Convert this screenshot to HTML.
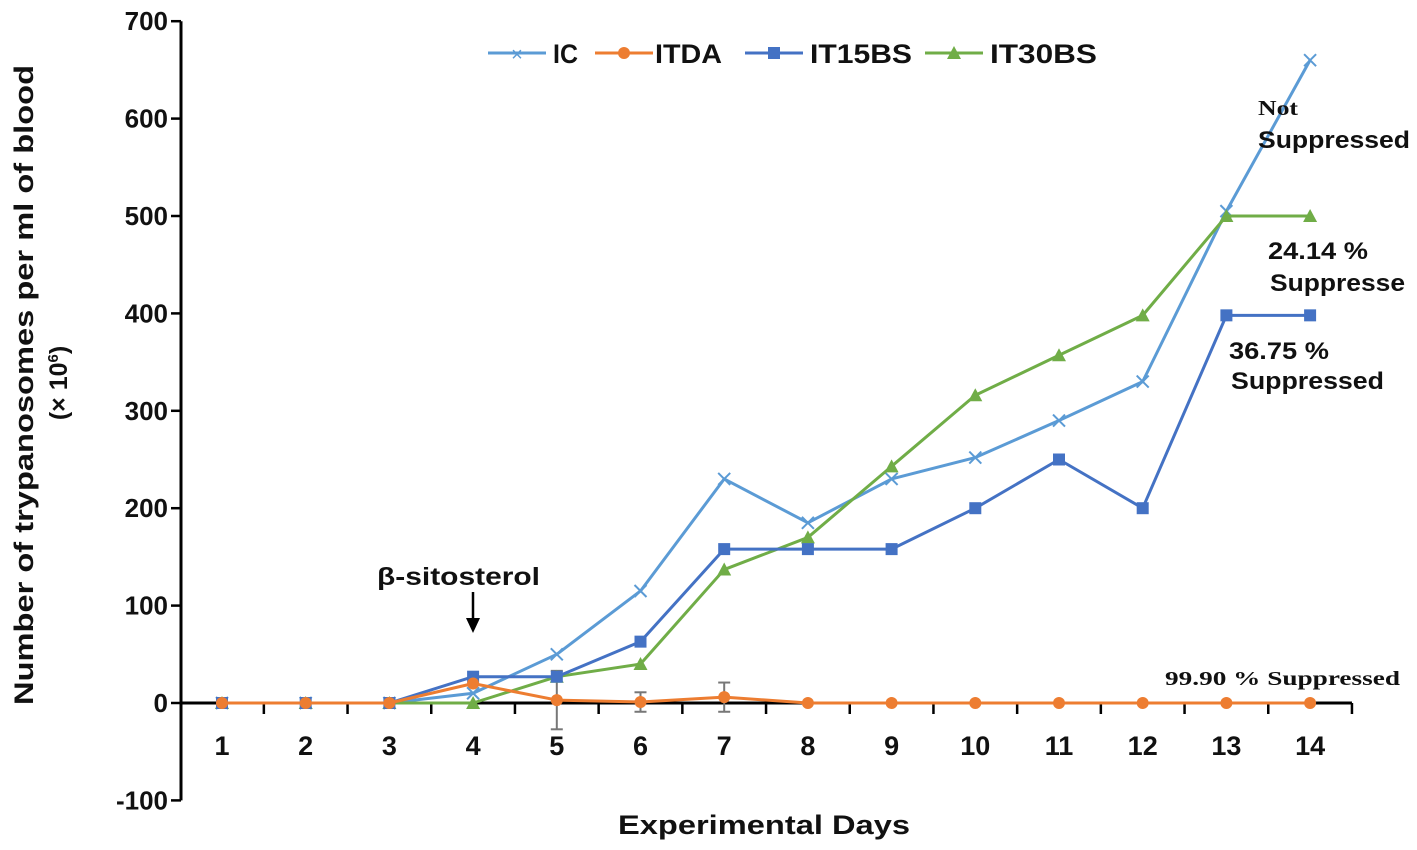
<!DOCTYPE html>
<html><head><meta charset="utf-8"><style>
body{margin:0;background:#fff;}
svg{display:block;font-family:"Liberation Sans",Arial,sans-serif;}
</style></head><body>
<svg id="chart" width="1417" height="850" viewBox="0 0 1417 850" xmlns="http://www.w3.org/2000/svg">
<g id="axes"></g>
<g id="series"></g>
<text transform="translate(33,385) rotate(-90)" text-anchor="middle" font-size="27" font-weight="bold" fill="#111" textLength="640" lengthAdjust="spacingAndGlyphs">Number of trypanosomes per ml of blood</text>
<text transform="translate(67,383) rotate(-90)" text-anchor="middle" font-size="25" font-weight="bold" fill="#111">(× 10<tspan font-size="15" dy="-9">6</tspan><tspan dy="9">)</tspan></text>
<text x="764" y="834" text-anchor="middle" font-size="27" font-weight="bold" fill="#111" textLength="292" lengthAdjust="spacingAndGlyphs">Experimental Days</text>
<g font-size="27" font-weight="bold" fill="#111">
 <g><line x1="488" y1="53" x2="546" y2="53" stroke="#5b9bd5" stroke-width="3"/><text x="517" y="61" text-anchor="middle" font-size="20" fill="#5b9bd5" font-weight="normal">×</text><text x="553" y="63" textLength="25" lengthAdjust="spacingAndGlyphs">IC</text></g>
 <g><line x1="595" y1="53" x2="653" y2="53" stroke="#ed7d31" stroke-width="3"/><circle cx="624" cy="53" r="6" fill="#ed7d31"/><text x="655" y="63" textLength="67" lengthAdjust="spacingAndGlyphs">ITDA</text></g>
 <g><line x1="745" y1="53" x2="803" y2="53" stroke="#4472c4" stroke-width="3"/><rect x="768" y="47" width="12" height="12" fill="#4472c4"/><text x="810" y="63" textLength="102" lengthAdjust="spacingAndGlyphs">IT15BS</text></g>
 <g><line x1="925" y1="53" x2="983" y2="53" stroke="#70ad47" stroke-width="3"/><polygon points="954,46 961,59 947,59" fill="#70ad47"/><text x="990" y="63" textLength="107" lengthAdjust="spacingAndGlyphs">IT30BS</text></g>
</g>
<g font-weight="bold" fill="#111">
 <text x="377" y="585" font-size="25" textLength="163" lengthAdjust="spacingAndGlyphs">β-sitosterol</text>
 <line x1="473" y1="592" x2="473" y2="620" stroke="#000" stroke-width="2.5"/>
 <polygon points="466,618 480,618 473,633" fill="#000"/>
 <text x="1258" y="115" font-family="Liberation Serif,serif" font-size="21" textLength="40" lengthAdjust="spacingAndGlyphs">Not</text>
 <text x="1258" y="148" font-size="24" textLength="152" lengthAdjust="spacingAndGlyphs">Suppressed</text>
 <text x="1268" y="259" font-size="24" textLength="100" lengthAdjust="spacingAndGlyphs">24.14 %</text>
 <text x="1270" y="291" font-size="24" textLength="135" lengthAdjust="spacingAndGlyphs">Suppresse</text>
 <text x="1229" y="359" font-size="24" textLength="100" lengthAdjust="spacingAndGlyphs">36.75 %</text>
 <text x="1231" y="389" font-size="24" textLength="153" lengthAdjust="spacingAndGlyphs">Suppressed</text>
 <text x="1165" y="685" font-family="Liberation Serif,serif" font-size="20" textLength="235" lengthAdjust="spacingAndGlyphs">99.90 % Suppressed</text>
</g>
</svg>
<script>
const days = [1,2,3,4,5,6,7,8,9,10,11,12,13,14];
const yTicks = [-100,0,100,200,300,400,500,600,700];
const icValues = [0,0,0,10,50,115,230,185,230,252,290,330,505,660];
const itdaValues = [0,0,0,20,3,1,6,0,0,0,0,0,0,0];
const itdaErrors = [0,0,0,0,30,10,15,0,0,0,0,0,0,0];
const it15Values = [0,0,0,27,27,63,158,158,158,200,250,200,398,398];
const it30Values = [0,0,0,0,27,40,137,170,243,316,357,398,500,500];

const NS='http://www.w3.org/2000/svg';
const X0=222, DX=83.7, Y0=703, PY=0.974;
const xs=d=>X0+(d-1)*DX;
const ys=v=>Y0-v*PY;
function mk(tag,attrs,parent){const e=document.createElementNS(NS,tag);for(const k in attrs)e.setAttribute(k,attrs[k]);parent.appendChild(e);return e;}
const axes=document.getElementById('axes'), ser=document.getElementById('series');
const ya=mk('line',{x1:181,y1:ys(700),x2:181,y2:ys(-100),stroke:'#000','stroke-width':3},axes);


yTicks.forEach(t=>{
 const tk=mk('line',{x1:171,y1:ys(t),x2:181,y2:ys(t),stroke:'#000','stroke-width':2.5},axes);
 
 
 const tx=mk('text',{x:168,y:ys(t)+9,'text-anchor':'end','font-size':26,'font-weight':'bold',fill:'#111'},axes);
 tx.textContent=t;
 
 
});
const xa=mk('line',{x1:181,y1:Y0,x2:xs(14)+DX/2,y2:Y0,stroke:'#000','stroke-width':3},axes);


days.forEach(d=>{
 const tk=mk('line',{x1:xs(d)+DX/2,y1:Y0,x2:xs(d)+DX/2,y2:Y0+11,stroke:'#000','stroke-width':2.5},axes);
 
 
 const tx=mk('text',{x:xs(d),y:755,'text-anchor':'middle','font-size':27,'font-weight':'bold',fill:'#111'},axes);
 tx.textContent=d;
 
 
});
function line(vals,color,name){
 const p=mk('polyline',{points:vals.map((v,i)=>xs(days[i])+','+ys(v)).join(' '),fill:'none',stroke:color,'stroke-width':3,'stroke-linejoin':'round'},ser);
 
 
}
itdaValues.forEach((v,i)=>{
 const e=itdaErrors[i]; if(!e)return;
 const x=xs(days[i]);
 const g=mk('g',{stroke:'#777','stroke-width':2},ser);
 
 
 mk('line',{x1:x,y1:ys(v+e),x2:x,y2:ys(v-e)},g);
 mk('line',{x1:x-6,y1:ys(v+e),x2:x+6,y2:ys(v+e)},g);
 mk('line',{x1:x-6,y1:ys(v-e),x2:x+6,y2:ys(v-e)},g);
});
line(icValues,'#5b9bd5','ic');
icValues.forEach((v,i)=>{
 const x=xs(days[i]),y=ys(v);
 const g=mk('g',{stroke:'#5b9bd5','stroke-width':2},ser);
 
 
 mk('line',{x1:x-6,y1:y-6,x2:x+6,y2:y+6},g);mk('line',{x1:x-6,y1:y+6,x2:x+6,y2:y-6},g);
});
line(it30Values,'#70ad47','it30bs');
it30Values.forEach((v,i)=>{
 const x=xs(days[i]),y=ys(v);
 const p=mk('polygon',{points:`${x},${y-7} ${x+7},${y+6} ${x-7},${y+6}`,fill:'#70ad47'},ser);
 
 
});
line(it15Values,'#4472c4','it15bs');
it15Values.forEach((v,i)=>{
 const x=xs(days[i]),y=ys(v);
 const r=mk('rect',{x:x-6,y:y-6,width:12,height:12,fill:'#4472c4'},ser);
 
 
});
line(itdaValues,'#ed7d31','itda');
itdaValues.forEach((v,i)=>{
 const c=mk('circle',{cx:xs(days[i]),cy:ys(v),r:6,fill:'#ed7d31'},ser);
 
 
});
</script>
</body></html>
